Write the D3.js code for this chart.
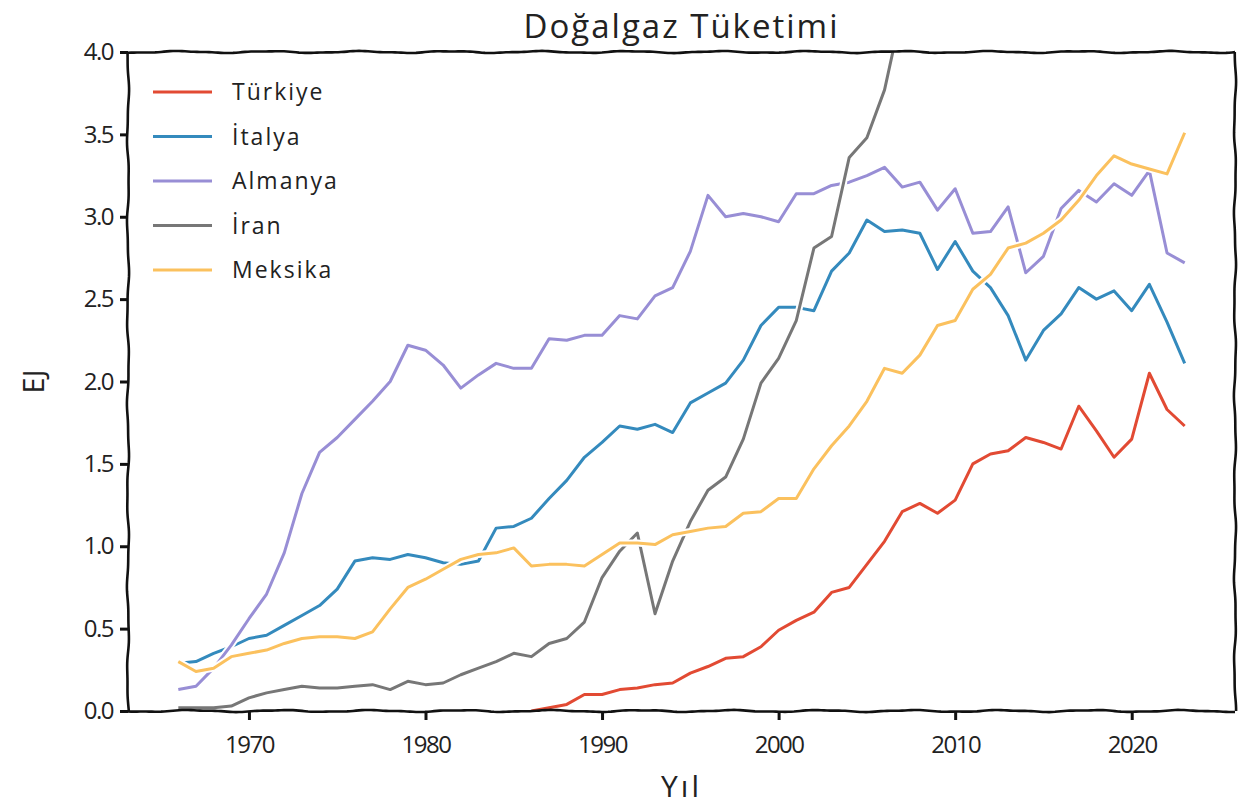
<!DOCTYPE html>
<html>
<head>
<meta charset="utf-8">
<script src="https://cdn.jsdelivr.net/npm/d3@7"></script>
<style>
  body { margin: 0; background: #fff; }
  svg { display: block; }
  text { font-family: "Open Sans", "DejaVu Sans", sans-serif; fill: #222; }
</style>
</head>
<body>
<div id="chart"></div>
<script>
// Data (EJ), 1966 - 2023
const years = [1966,1967,1968,1969,1970,1971,1972,1973,1974,1975,
  1976,1977,1978,1979,1980,1981,1982,1983,1984,1985,
  1986,1987,1988,1989,1990,1991,1992,1993,1994,1995,
  1996,1997,1998,1999,2000,2001,2002,2003,2004,2005,
  2006,2007,2008,2009,2010,2011,2012,2013,2014,2015,
  2016,2017,2018,2019,2020,2021,2022,2023];

const turkiye = [null,null,null,null,null,null,null,null,null,null,
  null,null,null,null,null,null,null,null,null,null,
  0.00,0.02,0.04,0.10,0.10,0.13,0.14,0.16,0.17,0.23,
  0.27,0.32,0.33,0.39,0.49,0.55,0.60,0.72,0.75,0.89,
  1.03,1.21,1.26,1.20,1.28,1.50,1.56,1.58,1.66,1.63,
  1.59,1.85,1.70,1.54,1.65,2.05,1.83,1.73];

const italya = [0.29,0.30,0.35,0.39,0.44,0.46,0.52,0.58,0.64,0.74,
  0.91,0.93,0.92,0.95,0.93,0.90,0.89,0.91,1.11,1.12,
  1.17,1.29,1.40,1.54,1.63,1.73,1.71,1.74,1.69,1.87,
  1.93,1.99,2.13,2.34,2.45,2.45,2.43,2.67,2.78,2.98,
  2.91,2.92,2.90,2.68,2.85,2.67,2.57,2.40,2.13,2.31,
  2.41,2.57,2.50,2.55,2.43,2.59,2.36,2.11];

const almanya = [0.13,0.15,0.26,0.40,0.56,0.71,0.96,1.32,1.57,1.66,
  1.77,1.88,2.00,2.22,2.19,2.10,1.96,2.04,2.11,2.08,
  2.08,2.26,2.25,2.28,2.28,2.40,2.38,2.52,2.57,2.79,
  3.13,3.00,3.02,3.00,2.97,3.14,3.14,3.19,3.21,3.25,
  3.30,3.18,3.21,3.04,3.17,2.90,2.91,3.06,2.66,2.76,
  3.05,3.16,3.09,3.20,3.13,3.28,2.78,2.72];

// values above 4.0 are outside the visible range (estimated)
const iran = [0.02,0.02,0.02,0.03,0.08,0.11,0.13,0.15,0.14,0.14,
  0.15,0.16,0.13,0.18,0.16,0.17,0.22,0.26,0.30,0.35,
  0.33,0.41,0.44,0.54,0.81,0.97,1.08,0.59,0.91,1.15,
  1.34,1.42,1.65,1.99,2.14,2.37,2.81,2.88,3.36,3.48,
  3.77,4.26,4.45,4.75,5.25,5.60,5.70,5.80,6.30,6.60,
  7.00,7.40,7.70,8.20,8.30,8.50,8.60,8.90];

const meksika = [0.30,0.24,0.26,0.33,0.35,0.37,0.41,0.44,0.45,0.45,
  0.44,0.48,0.62,0.75,0.80,0.86,0.92,0.95,0.96,0.99,
  0.88,0.89,0.89,0.88,0.95,1.02,1.02,1.01,1.07,1.09,
  1.11,1.12,1.20,1.21,1.29,1.29,1.47,1.61,1.73,1.88,
  2.08,2.05,2.16,2.34,2.37,2.56,2.65,2.81,2.84,2.90,
  2.98,3.10,3.25,3.37,3.32,3.29,3.26,3.51];

const seriesNames = ['Türkiye', 'İtalya', 'Almanya', 'İran', 'Meksika'];
const seriesValues = [turkiye, italya, almanya, iran, meksika];
const colors = ['#E24A33', '#348ABD', '#988ED5', '#777777', '#FBC15E'];

const xTicks = [1970, 1980, 1990, 2000, 2010, 2020];
const yTicks = [0, 0.5, 1.0, 1.5, 2.0, 2.5, 3.0, 3.5, 4.0];

const width = 1239, height = 808;
const margin = { top: 52, right: 4, bottom: 97, left: 128 };

const svg = d3.select('#chart').append('svg')
  .attr('width', width)
  .attr('height', height);

const x = d3.scaleLinear()
  .domain([1963.15, 2025.85])
  .range([margin.left, width - margin.right]);

const y = d3.scaleLinear()
  .domain([0, 4])
  .range([height - margin.bottom, margin.top]);

// hand drawn look: wobble a polyline sideways
function wavy(pts, amp, wl, phase) {
  const out = [];
  let s = 0;
  for (let i = 0; i < pts.length - 1; i++) {
    const [x0, y0] = pts[i], [x1, y1] = pts[i + 1];
    const len = Math.hypot(x1 - x0, y1 - y0);
    if (len === 0) continue;
    const n = Math.max(1, Math.ceil(len / 3));
    const nx = -(y1 - y0) / len, ny = (x1 - x0) / len;
    for (let k = 0; k <= n; k++) {
      const t = k / n, d = s + t * len;
      const off = amp * (0.75 * Math.sin(d / wl * 2 * Math.PI + phase) +
                         0.25 * Math.sin(d / (wl * 0.41) * 2 * Math.PI + phase * 1.7 + 1.3));
      out.push([x0 + (x1 - x0) * t + nx * off, y0 + (y1 - y0) * t + ny * off]);
    }
    s += len;
  }
  return d3.line()(out);
}

svg.append('clipPath').attr('id', 'plot-clip')
  .append('rect')
  .attr('x', margin.left)
  .attr('y', margin.top)
  .attr('width', width - margin.left - margin.right)
  .attr('height', height - margin.top - margin.bottom);

// Lines
const line = d3.line()
  .defined(d => d.v != null)
  .x(d => x(d.year))
  .y(d => y(d.v));

const plot = svg.append('g').attr('clip-path', 'url(#plot-clip)');

seriesValues.forEach((vals, i) => {
  const data = years.map((yr, j) => ({ year: yr, v: vals[j] }));
  plot.append('path')
    .attr('fill', 'none')
    .attr('stroke', '#fff')
    .attr('stroke-width', 7)
    .attr('stroke-linejoin', 'round')
    .attr('d', line(data));
  plot.append('path')
    .attr('fill', 'none')
    .attr('stroke', colors[i])
    .attr('stroke-width', 3)
    .attr('stroke-linejoin', 'round')
    .attr('d', line(data));
});

// Frame (wiggly spines)
const x0 = margin.left, x1 = width - margin.right;
const y0 = margin.top, y1 = height - margin.bottom;
[
  [[x0, y1], [x1, y1], 0.3],
  [[x0, y0], [x1, y0], 1.1],
  [[x0, y0], [x0, y1], 2.0],
  [[x1, y0], [x1, y1], 2.7]
].forEach(([a, b, ph]) => {
  svg.append('path')
    .attr('fill', 'none')
    .attr('stroke', '#111')
    .attr('stroke-width', 2.6)
    .attr('d', wavy([a, b], 1.1, 90, ph));
});

// Axes
const xAxis = svg.append('g')
  .attr('transform', `translate(0, ${y1})`)
  .call(d3.axisBottom(x).tickValues(xTicks).tickFormat(d3.format('d'))
    .tickSize(9).tickSizeOuter(0).tickPadding(16));

const yAxis = svg.append('g')
  .attr('transform', `translate(${x0}, 0)`)
  .call(d3.axisLeft(y).tickValues(yTicks).tickFormat(d3.format('.1f'))
    .tickSize(8).tickSizeOuter(0).tickPadding(7));

[xAxis, yAxis].forEach(ax => {
  ax.select('.domain').remove();
  ax.selectAll('.tick line').attr('stroke', '#111').attr('stroke-width', 3);
  ax.selectAll('.tick text')
    .style('font-size', '24px')
    .style('letter-spacing', '-1.5px')
    .attr('fill', '#222');
});

// Titles
svg.append('text')
  .attr('x', (x0 + x1) / 2)
  .attr('y', 38)
  .attr('text-anchor', 'middle')
  .style('font-size', '33px')
  .style('letter-spacing', '2px')
  .text('Doğalgaz Tüketimi');

svg.append('text')
  .attr('x', (x0 + x1) / 2)
  .attr('y', 797)
  .attr('text-anchor', 'middle')
  .style('font-size', '30px')
  .style('letter-spacing', '3px')
  .text('Yıl');

svg.append('text')
  .attr('transform', `translate(44, ${(y0 + y1) / 2}) rotate(-90)`)
  .attr('text-anchor', 'middle')
  .style('font-size', '29px')
  .text('EJ');

// Legend
const legend = svg.append('g')
  .attr('transform', 'translate(153, 92)');

const entries = legend.selectAll('.legend-entry')
  .data(seriesNames)
  .enter()
  .append('g')
  .attr('class', 'legend-entry')
  .attr('transform', (d, i) => `translate(0, ${i * 44.5})`);

entries.append('line')
  .attr('x1', 0).attr('x2', 59)
  .attr('y1', 0).attr('y2', 0)
  .attr('stroke', (d, i) => colors[i])
  .attr('stroke-width', 3);

entries.append('text')
  .attr('x', 79)
  .attr('y', 8)
  .style('font-size', '23px')
  .style('letter-spacing', '2px')
  .text(d => d);
</script>
</body>
</html>
